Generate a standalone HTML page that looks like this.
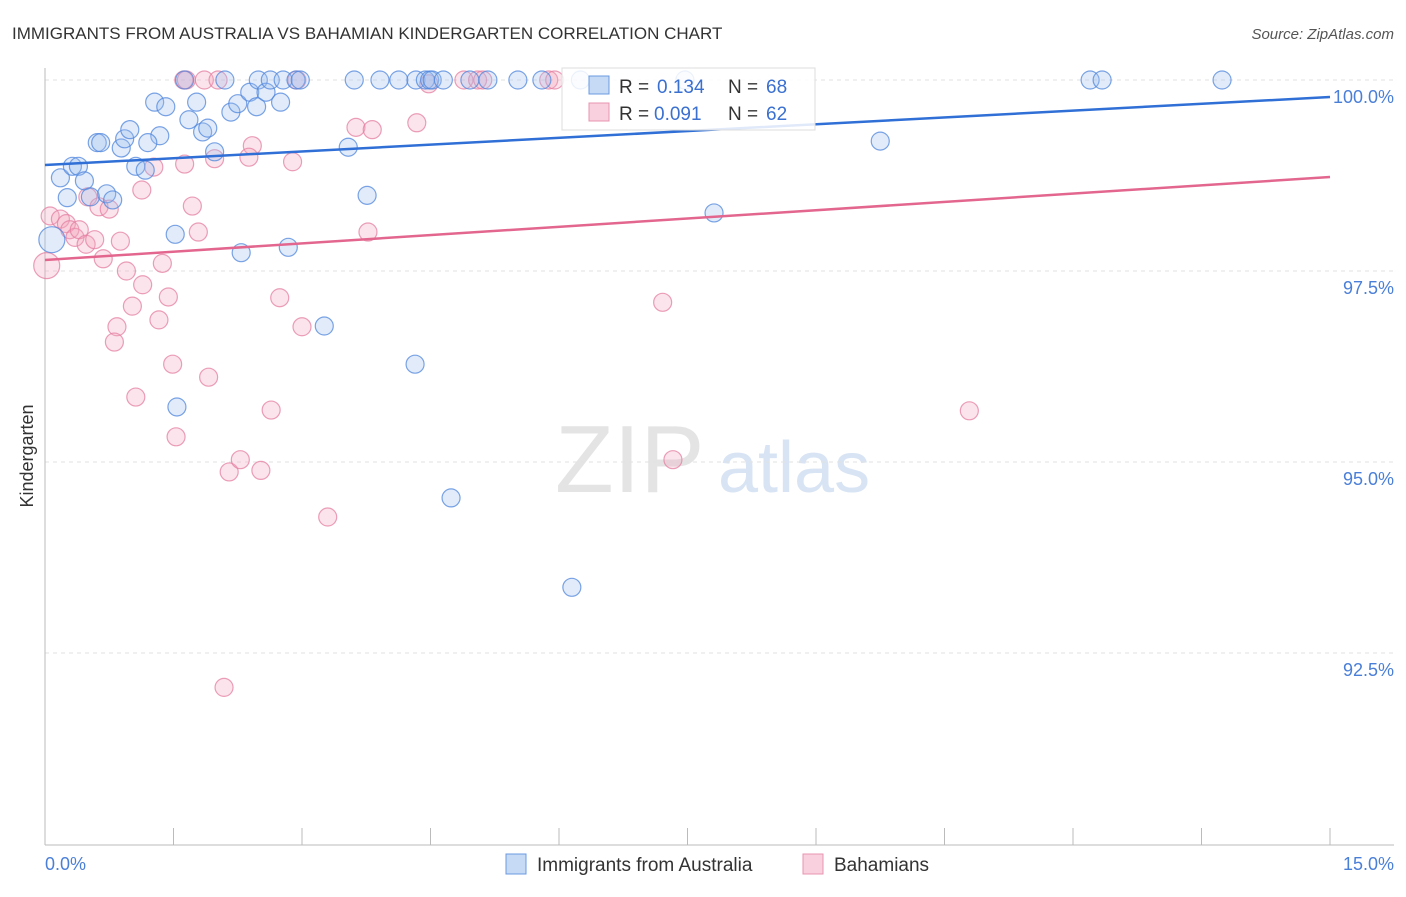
<!DOCTYPE html>
<html><head><meta charset="utf-8"><style>
body{margin:0;background:#fff;font-family:"Liberation Sans",sans-serif;}
svg text{font-family:"Liberation Sans",sans-serif;}
</style></head><body>
<svg id="chart" width="1406" height="892" viewBox="0 0 1406 892">
<text x="12" y="39" font-size="17" fill="#333">IMMIGRANTS FROM AUSTRALIA VS BAHAMIAN KINDERGARTEN CORRELATION CHART</text>
<text x="1394" y="39" font-size="15" fill="#555" font-style="italic" text-anchor="end">Source: ZipAtlas.com</text>
<text x="555" y="492" font-size="96" fill="#e4e4e4" font-family="Liberation Serif">ZIP</text>
<text x="718" y="492" font-size="72" fill="#d8e4f4">atlas</text>
<g id="grid"></g>
<line x1="45" y1="68" x2="45" y2="845" stroke="#bbb"/>
<line x1="45" y1="845" x2="1394" y2="845" stroke="#bbb"/>
<g id="xticks"></g>
<text x="45" y="870" font-size="18" fill="#4a7fd8">0.0%</text>
<text x="1394" y="870" font-size="18" fill="#4a7fd8" text-anchor="end">15.0%</text>
<text transform="translate(33,456) rotate(-90)" font-size="18" fill="#333" text-anchor="middle">Kindergarten</text>
<g id="points"></g>
<g id="lines"></g>
<g>
<rect x="562" y="68" width="253" height="62" fill="#fff" fill-opacity="0.85" stroke="#ddd"/>
<rect x="589" y="76" width="20" height="18" fill="#c6d9f5" stroke="#6a9be0"/>
<text x="619" y="93" font-size="19" fill="#333">R =</text>
<text x="657" y="93" font-size="19" fill="#3a70d0">0.134</text>
<text x="728" y="93" font-size="19" fill="#333">N =</text>
<text x="766" y="93" font-size="19" fill="#3a70d0">68</text>
<rect x="589" y="103" width="20" height="18" fill="#f9d0dd" stroke="#e895b0"/>
<text x="619" y="120" font-size="19" fill="#333">R =</text>
<text x="654" y="120" font-size="19" fill="#3a70d0">0.091</text>
<text x="728" y="120" font-size="19" fill="#333">N =</text>
<text x="766" y="120" font-size="19" fill="#3a70d0">62</text>
</g>
<g>
<rect x="506" y="854" width="20" height="20" fill="#c6d9f5" stroke="#6a9be0"/>
<text x="537" y="871" font-size="19" fill="#333">Immigrants from Australia</text></g>
<g>
<rect x="803" y="854" width="20" height="20" fill="#f9d0dd" stroke="#e895b0"/>
<text x="834" y="871" font-size="19" fill="#333">Bahamians</text></g>
</svg>
<script>
const yTicks=[100,97.5,95,92.5];
const yTickLabels=["100.0%","97.5%","95.0%","92.5%"];
const blueX=[0.08,0.18,0.26,0.32,0.39,0.46,0.53,0.61,0.65,0.72,0.79,0.89,0.93,0.99,1.06,1.17,1.28,1.34,1.20,1.41,1.52,1.54,1.63,1.68,1.77,1.84,1.90,1.98,2.10,2.17,2.25,2.29,2.39,2.47,2.49,2.58,2.63,2.75,2.78,2.84,2.93,2.98,3.26,3.54,3.61,3.76,3.91,4.13,4.32,4.33,4.44,4.49,4.52,4.65,4.74,4.96,5.17,5.52,5.80,6.15,6.25,7.47,7.81,9.75,12.20,12.34,13.74];
const blueY=[97.91,98.72,98.46,98.87,98.87,98.68,98.47,99.18,99.18,98.51,98.43,99.11,99.23,99.35,98.87,98.82,99.71,99.27,99.18,99.65,97.98,95.72,100,99.48,99.71,99.32,99.37,99.06,100,99.58,99.69,97.74,99.84,99.65,100,99.84,100,99.71,100,97.81,100,100,96.78,99.12,100,98.49,100,100,96.28,100,100,100,100,100,94.53,100,100,100,100,93.36,100,100,98.26,99.20,100,100,100];
const pinkX=[0.02,0.06,0.18,0.25,0.29,0.35,0.40,0.48,0.58,0.50,0.63,0.75,0.88,0.68,0.95,1.02,1.13,1.14,0.84,0.81,1.06,1.27,1.33,1.37,1.44,1.49,1.53,1.62,1.63,1.72,1.79,1.86,1.91,1.98,2.02,2.15,2.28,2.42,2.38,2.52,2.64,2.74,2.89,2.94,3.00,3.30,3.63,3.77,3.82,4.34,4.48,4.89,5.05,5.11,5.88,5.95,7.21,7.33,10.79,2.09,1.65];
const pinkY=[97.57,98.22,98.18,98.12,98.04,97.94,98.04,97.85,97.91,98.47,98.34,98.31,97.89,97.66,97.50,97.04,98.56,97.32,96.77,96.57,95.85,98.86,96.86,97.60,97.16,96.28,95.33,100,98.90,98.35,98.01,100,96.11,98.97,100,94.87,95.03,99.14,98.99,94.89,95.68,97.15,98.93,100,96.77,94.28,99.38,98.01,99.35,99.44,99.95,100,100,100,100,100,97.09,95.03,95.67,92.05,100];
const blueTrend=[98.887,99.777];
const pinkTrend=[97.644,98.730];
const NS="http://www.w3.org/2000/svg";
const sx=v=>45+v/15*1285;
const sy=v=>80+(100-v)/2.5*191;
function mk(tag,attrs,parent){const e=document.createElementNS(NS,tag);for(const k in attrs)e.setAttribute(k,attrs[k]);parent.appendChild(e);return e;}
const grid=document.getElementById('grid');
yTicks.forEach((t,i)=>{
 const l=mk('line',{x1:45,x2:1394,y1:sy(t),y2:sy(t),stroke:'#e2e2e2','stroke-dasharray':'4,4'},grid);
 
 
 const tx=mk('text',{x:1394,y:sy(t)+23,'font-size':18,fill:'#4a7fd8','text-anchor':'end'},grid);
 tx.textContent=yTickLabels[i];
 
 
});
const xt=document.getElementById('xticks');
for(let i=0;i<=10;i++){const x=45+i*128.5;
 const l=mk('line',{x1:x,x2:x,y1:828,y2:845,stroke:'#bbb'},xt);
 
 }
const pts=document.getElementById('points');
function draw(xs,ys,fill,stroke,name){xs.forEach((x,i)=>{
 const c=mk('circle',{cx:sx(x),cy:sy(ys[i]),r:(i===0&&x<0.1)?13:9,fill:fill,'fill-opacity':0.3,stroke:stroke,'stroke-width':1.2,'stroke-opacity':0.75},pts);
 
 });}
draw(pinkX,pinkY,'#f2a5be','#e47fa2','bahamians-point');
draw(blueX,blueY,'#9cbdf0','#4f86dc','australia-point');
const lg=document.getElementById('lines');
const bl=mk('line',{x1:sx(0),y1:sy(blueTrend[0]),x2:sx(15),y2:sy(blueTrend[1]),stroke:'#2f6fd6','stroke-width':2.5},lg);


const pl=mk('line',{x1:sx(0),y1:sy(pinkTrend[0]),x2:sx(15),y2:sy(pinkTrend[1]),stroke:'#e3668f','stroke-width':2.5},lg);


</script>
</body></html>
